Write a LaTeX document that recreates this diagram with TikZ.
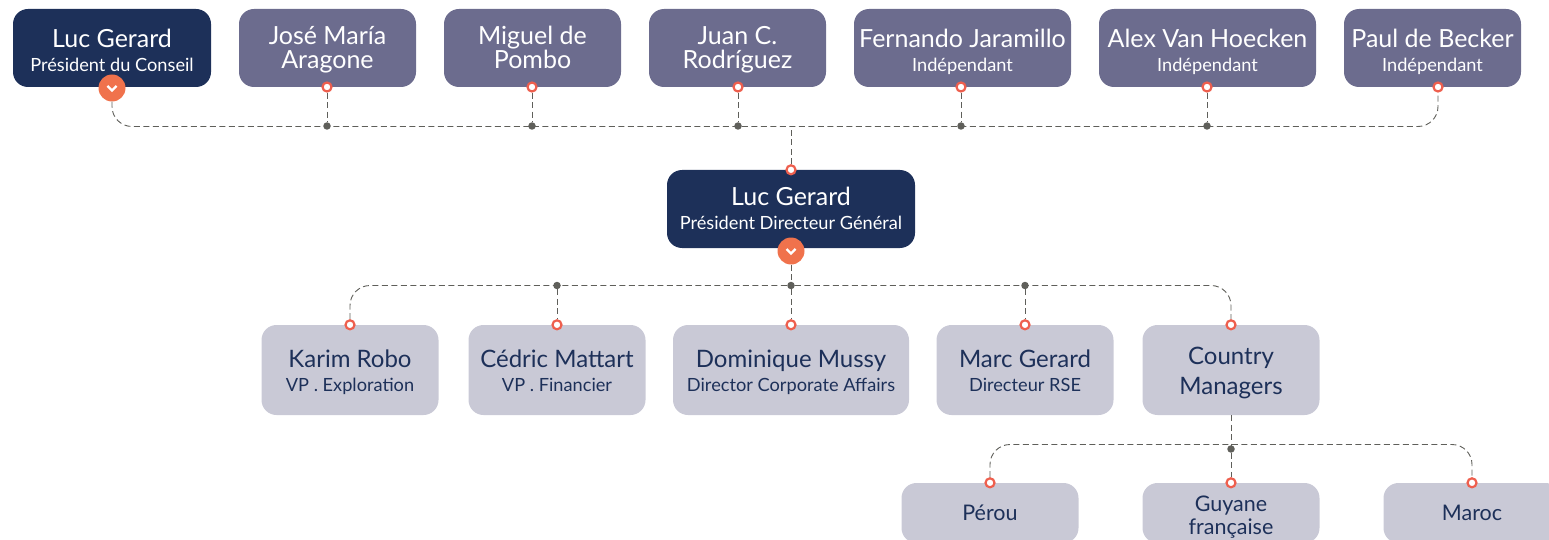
\documentclass[tikz,border=0pt]{standalone}
\usepackage{fontspec}
\setmainfont{Lato}
\usepackage{xcolor}
\definecolor{navyfill}{HTML}{1D3059}
\definecolor{slatefill}{HTML}{6C6C8E}
\definecolor{palefill}{HTML}{C9C9D6}
\definecolor{chevfill}{HTML}{F0724C}
\definecolor{portring}{HTML}{EE5F4E}
\definecolor{linkgrey}{HTML}{5F5F5A}
\newcommand{\firstline}{\rule{0pt}{28pt}}
\newcommand{\lastline}[1]{\rule[-#1]{0pt}{#1}}
\newcommand{\role}[2][5pt]{{\fontsize{18.2}{23}\selectfont #2\lastline{#1}}}

\begin{document}
\begin{tikzpicture}[x=1pt,y=-1pt,node distance=215.5pt,
  box node/.style={rectangle,rounded corners=15pt,minimum height=78pt,align=center,inner sep=0pt,
    font=\fontsize{25}{24}\selectfont},
  navy node/.style={box node,fill=navyfill,text=white},
  slate node/.style={box node,fill=slatefill,text=white,minimum width=177pt},
  pale node/.style={box node,fill=palefill,text=navyfill,minimum width=177pt,minimum height=90pt,
    font=\fontsize{24}{24}\selectfont},
  leaf node/.style={pale node,minimum height=60pt,font=\fontsize{21.5}{23}\selectfont},
  port node/.style={circle,draw=portring,fill=white,line width=2.2pt,minimum size=9pt,inner sep=0pt},
  dot node/.style={circle,fill=linkgrey,minimum size=7.5pt,inner sep=0pt},
  chev node/.style={circle,fill=chevfill,minimum size=27pt,inner sep=0pt},
  chev mark/.style={draw=white,line width=2.2pt},
  link/.style={dashed,dash pattern=on 6pt off 3.5pt,draw=linkgrey,line width=0.9pt,rounded corners=20pt}]

  \useasboundingbox (0,0) rectangle (1549,540);

  % board
  \node[navy node,minimum width=198pt] (board1) at (112,48) {\firstline Luc Gerard\\\role{Président du Conseil}};
  \node[slate node] (board2) [right of=board1] {\firstline José María\\Aragone\lastline{10pt}};
  \node[slate node] (board3) [right of=board2,node distance=205pt] {\firstline Miguel de\\Pombo\lastline{10pt}};
  \node[slate node] (board4) [right of=board3,node distance=205pt] {\firstline Juan C.\\Rodríguez\lastline{10pt}};
  \node[slate node,minimum width=217pt] (board5) [right of=board4,node distance=225pt] {\firstline Fernando Jaramillo\\\role{Indépendant}};
  \node[slate node,minimum width=217pt] (board6) [right of=board5,node distance=245pt] {\firstline Alex Van Hoecken\\\role{Indépendant}};
  \node[slate node] (board7) [right of=board6,node distance=225pt] {\firstline Paul de Becker\\\role{Indépendant}};

  % direction
  \node[navy node,minimum width=248pt] (ceo) at (791,209) {\firstline Luc Gerard\\\role[11pt]{Président Directeur Général}};
  \node[pale node,minimum width=236pt] (vp3) [below of=ceo,node distance=161pt] {\firstline Dominique Mussy\\\role[9pt]{Director Corporate Affairs}};
  \node[pale node] (vp2) [left of=vp3,node distance=234pt] {\firstline Cédric Mattart\\\role[9pt]{VP . Financier}};
  \node[pale node] (vp1) [left of=vp2,node distance=207pt] {\firstline Karim Robo\\\role[9pt]{VP . Exploration}};
  \node[pale node] (vp4) [right of=vp3,node distance=234pt] {\firstline Marc Gerard\\\role[9pt]{Directeur RSE}};
  \node[pale node,font=\fontsize{24}{30}\selectfont] (vp5) [right of=vp4,node distance=206pt] {\firstline Country\\Managers\lastline{10pt}};

  % countries
  \node[leaf node] (land2) [below of=vp5,node distance=143pt] {\firstline Guyane\\française\lastline{9pt}};
  \node[leaf node] (land1) [left of=land2,node distance=241pt] {Pérou};
  \node[leaf node] (land3) [right of=land2,node distance=241pt] {Maroc};

  % ports
  \node[chev node] (chev1) at (112,88) {};
  \node[chev node] (chev2) at (791,251) {};
  \node[port node] (portb2) at (327,87) {};
  \node[port node] (portb3) at (532,87) {};
  \node[port node] (portb4) at (738,87) {};
  \node[port node] (portb5) at (961,87) {};
  \node[port node] (portb6) at (1207,87) {};
  \node[port node] (portb7) at (1438,87) {};
  \node[port node] (portc) at (ceo.north) {};
  \node[port node] (portv1) at (vp1.north) {};
  \node[port node] (portv2) at (vp2.north) {};
  \node[port node] (portv3) at (vp3.north) {};
  \node[port node] (portv4) at (vp4.north) {};
  \node[port node] (portv5) at (vp5.north) {};
  \node[port node] (portl1) at (land1.north) {};
  \node[port node] (portl2) at (land2.north) {};
  \node[port node] (portl3) at (land3.north) {};

  % junctions
  \node[dot node] (dotb2) at (327,126) {};
  \node[dot node] (dotb3) at (532,126) {};
  \node[dot node] (dotb4) at (738,126) {};
  \node[dot node] (dotb5) at (961,126) {};
  \node[dot node] (dotb6) at (1207,126) {};
  \node[dot node] (dotv2) at (557,285.5) {};
  \node[dot node] (dotv3) at (791,285.5) {};
  \node[dot node] (dotv4) at (1025,285.5) {};
  \node[dot node] (dotl2) at (1231,449) {};
  \coordinate (busb) at (791,126.5);
  \coordinate (busl) at (1231,444.5);

  \draw[chev mark] (chev1) +(-4.5,-2) -- +(0,2.5) -- +(4.5,-2);
  \draw[chev mark] (chev2) +(-4.5,-2) -- +(0,2.5) -- +(4.5,-2);

  \path[link]
  (portb2) edge (dotb2)
  (portb3) edge (dotb3)
  (portb4) edge (dotb4)
  (portb5) edge (dotb5)
  (portb6) edge (dotb6)
  (portc) edge (busb)
  (chev2) edge (dotv3)
  (dotv2) edge (portv2)
  (dotv3) edge (portv3)
  (dotv4) edge (portv4)
  (vp5) edge (busl)
  (busl) edge (dotl2)
  (dotl2) edge (portl2);

  \draw[link] (chev1) |- (busb) -| (portb7);
  \draw[link] (portv1) |- (dotv3) -| (portv5);
  \draw[link] (portl1) |- (busl) -| (portl3);

\end{tikzpicture}
\end{document}
